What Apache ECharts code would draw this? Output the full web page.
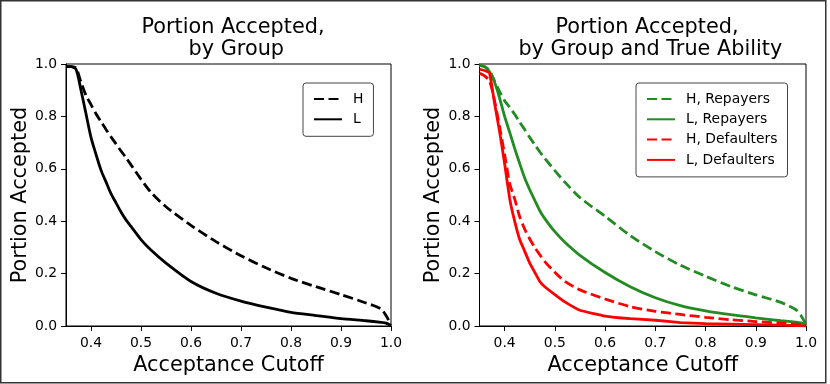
<!DOCTYPE html>
<html>
<head>
<meta charset="UTF-8">
<title>Portion Accepted</title>
<script src="https://cdn.jsdelivr.net/npm/echarts@6/dist/echarts.min.js"></script>
<style>
  html, body { margin: 0; padding: 0; background: #fff; }
</style>
</head>
<body>
<div id="main" style="width:830px;height:384px"></div>
<script>
// acceptance cutoff values (x)
var cutoffs = [0.35, 0.36, 0.37, 0.38, 0.39, 0.40, 0.41, 0.42, 0.43, 0.44, 0.45, 0.46, 0.47, 0.48,
               0.50, 0.52, 0.55, 0.60, 0.65, 0.70, 0.75, 0.80, 0.85, 0.90, 0.95, 0.98, 0.99, 1.00];

// left panel: by group
var groupH = [0.99, 0.99, 0.985, 0.93, 0.88, 0.845, 0.81, 0.78, 0.75, 0.722, 0.695, 0.668, 0.643, 0.615,
              0.56, 0.51, 0.455, 0.384, 0.322, 0.268, 0.222, 0.182, 0.15, 0.12, 0.088, 0.065, 0.04, 0.005];
var groupL = [0.99, 0.99, 0.98, 0.9, 0.81, 0.72, 0.655, 0.595, 0.55, 0.505, 0.47, 0.435, 0.405, 0.38,
              0.33, 0.29, 0.24, 0.17, 0.125, 0.095, 0.072, 0.052, 0.04, 0.028, 0.02, 0.014, 0.011, 0.002];

// right panel: by group and true ability
var hRepayers = [0.995, 0.99, 0.975, 0.935, 0.895, 0.86, 0.835, 0.808, 0.778, 0.75, 0.72, 0.692, 0.665, 0.64,
                 0.593, 0.549, 0.49, 0.419, 0.345, 0.284, 0.232, 0.19, 0.151, 0.119, 0.09, 0.062, 0.04, 0.005];
var lRepayers = [0.995, 0.99, 0.97, 0.93, 0.87, 0.80, 0.74, 0.678, 0.62, 0.565, 0.52, 0.48, 0.44, 0.41,
                 0.36, 0.32, 0.27, 0.204, 0.15, 0.108, 0.078, 0.058, 0.043, 0.031, 0.02, 0.015, 0.012, 0.003];
var hDefaulters = [0.965, 0.955, 0.935, 0.86, 0.76, 0.655, 0.545, 0.485, 0.417, 0.37, 0.332, 0.3, 0.272, 0.246,
                   0.205, 0.17, 0.138, 0.103, 0.074, 0.056, 0.044, 0.033, 0.024, 0.017, 0.011, 0.007, 0.005, 0.001];
var lDefaulters = [0.98, 0.975, 0.965, 0.85, 0.742, 0.62, 0.487, 0.4, 0.33, 0.285, 0.24, 0.205, 0.17, 0.15,
                   0.12, 0.092, 0.06, 0.038, 0.028, 0.022, 0.013, 0.009, 0.007, 0.005, 0.003, 0.002, 0.001, 0.0];

var xTicks = [0.4, 0.5, 0.6, 0.7, 0.8, 0.9, 1.0];

var FONT = 'DejaVu Sans';
var DASH = [10, 4.5];
var LW = 2.8;

function pairs(ys) {
    return cutoffs.map(function (x, i) { return [x, ys[i]]; });
}

function xAxisFor(idx) {
    return {
        type: 'value', gridIndex: idx, min: 0.35, max: 1.0,
        name: 'Acceptance Cutoff', nameLocation: 'middle', nameGap: 22,
        nameTextStyle: { fontFamily: FONT, fontSize: 20.8, color: '#000', verticalAlign: 'top' },
        axisLine: { lineStyle: { color: '#000', width: 1 } },
        axisTick: { show: true, length: 5, customValues: xTicks, lineStyle: { color: '#000' } },
        axisLabel: { customValues: xTicks, margin: 10, fontFamily: FONT, fontSize: 13.9, color: '#000',
                     formatter: function (v) { return v.toFixed(1); } },
        splitLine: { show: false }
    };
}

function yAxisFor(idx) {
    return {
        type: 'value', gridIndex: idx, min: 0, max: 1, interval: 0.2,
        name: 'Portion Accepted', nameLocation: 'middle', nameGap: 35,
        nameTextStyle: { fontFamily: FONT, fontSize: 20.8, color: '#000' },
        axisLine: { show: true, lineStyle: { color: '#000', width: 1 } },
        axisTick: { show: true, length: 5, lineStyle: { color: '#000' } },
        axisLabel: { margin: 9, fontFamily: FONT, fontSize: 13.9, color: '#000',
                     formatter: function (v) { return v.toFixed(1); } },
        splitLine: { show: false }
    };
}

function line(name, ys, color, dashed, idx, smooth) {
    return {
        name: name, type: 'line', xAxisIndex: idx, yAxisIndex: idx,
        data: pairs(ys), symbol: 'none', smooth: smooth, animation: false,
        lineStyle: { color: color, width: LW, type: dashed ? DASH : 'solid' },
        itemStyle: { color: color }
    };
}

var legendText = { fontFamily: FONT, fontSize: 13.9, color: '#000', padding: [0, 0, 0, 6] };

var option = {
    backgroundColor: '#fff',
    animation: false,
    title: [
        { text: 'Portion Accepted,\n by Group', left: 228, top: 12, textAlign: 'center',
          textStyle: { fontFamily: FONT, fontSize: 20.8, fontWeight: 'normal', color: '#000', lineHeight: 22 } },
        { text: 'Portion Accepted,\n by Group and True Ability', left: 642, top: 12, textAlign: 'center',
          textStyle: { fontFamily: FONT, fontSize: 20.8, fontWeight: 'normal', color: '#000', lineHeight: 22 } }
    ],
    grid: [
        { left: 66, top: 64, width: 325, height: 262, show: true, borderColor: '#000', borderWidth: 1 },
        { left: 479.5, top: 64, width: 326.5, height: 262, show: true, borderColor: '#000', borderWidth: 1 }
    ],
    xAxis: [xAxisFor(0), xAxisFor(1)],
    yAxis: [yAxisFor(0), yAxisFor(1)],
    legend: [
        { data: ['H', 'L'], orient: 'vertical', left: 303, top: 83,
          itemWidth: 28, itemHeight: 14, itemGap: 6.3, padding: [9, 10, 10, 10],
          itemStyle: { opacity: 0 },
          borderColor: '#444', borderWidth: 1, borderRadius: 3, textStyle: legendText },
        { data: ['H, Repayers', 'L, Repayers', 'H, Defaulters', 'L, Defaulters'], orient: 'vertical', left: 636, top: 83,
          itemWidth: 28, itemHeight: 14, itemGap: 6.3, padding: [9, 10, 10, 10],
          itemStyle: { opacity: 0 },
          borderColor: '#444', borderWidth: 1, borderRadius: 3, textStyle: legendText }
    ],
    graphic: [
        { type: 'rect', shape: { x: 0.75, y: 0.75, width: 825, height: 382 }, silent: true,
          style: { fill: 'none', stroke: '#333', lineWidth: 1.5 } }
    ],
    series: [
        line('H', groupH, '#000', true, 0, 0.25),
        line('L', groupL, '#000', false, 0, 0.25),
        line('H, Repayers', hRepayers, '#228b22', true, 1, 0.25),
        line('L, Repayers', lRepayers, '#228b22', false, 1, 0.25),
        line('H, Defaulters', hDefaulters, '#ff0000', true, 1, 0.25),
        line('L, Defaulters', lDefaulters, '#ff0000', false, 1, 0.1)
    ]
};

var myChart = echarts.init(document.getElementById('main'));
myChart.setOption(option);
</script>
</body>
</html>
